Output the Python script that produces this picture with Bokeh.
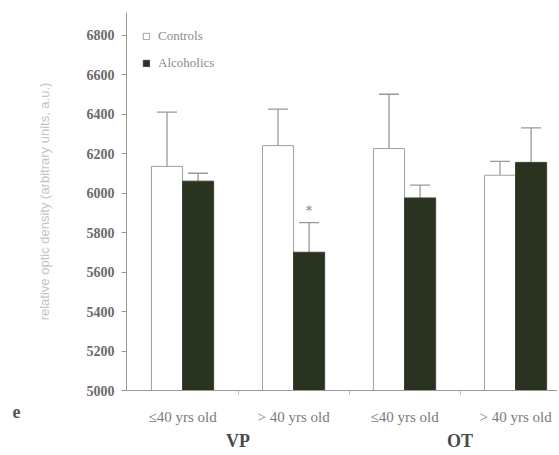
from bokeh.plotting import figure
from bokeh.models import (ColumnDataSource, Whisker, TeeHead, FixedTicker, LinearAxis,
                          Title, Range1d, Legend, LegendItem)
from bokeh.core.properties import value
from bokeh.embed import file_html
from bokeh.resources import INLINE

categories = ["\u226440 yrs old", "> 40 yrs old", "\u226440 yrs old", "> 40 yrs old"]
regions = ["VP", "OT"]
controls = [6135, 6240, 6225, 6090]
controls_err = [275, 185, 275, 70]
alcoholics = [6060, 5700, 5975, 6155]
alcoholics_err = [40, 150, 65, 175]
significant = [False, True, False, False]
y_ticks = [5000, 5200, 5400, 5600, 5800, 6000, 6200, 6400, 6600, 6800]
panel_letter = "e"

SERIF = "Liberation Serif"
bw = 0.28
base = 5000
pos = list(range(len(categories)))

p = figure(width=557, height=453, output_backend="svg", toolbar_location=None,
           x_range=Range1d(-0.505, 3.378), y_range=Range1d(5000, 6914),
           min_border_left=126, min_border_right=0, min_border_top=12, min_border_bottom=10)
p.xgrid.visible = False
p.ygrid.visible = False
p.outline_line_color = None
p.background_fill_color = "white"

src_c = ColumnDataSource(dict(x=[i - bw / 2 for i in pos], top=controls,
                              up=[m + e for m, e in zip(controls, controls_err)]))
src_a = ColumnDataSource(dict(x=[i + bw / 2 for i in pos], top=alcoholics,
                              up=[m + e for m, e in zip(alcoholics, alcoholics_err)]))

rc = p.vbar(x="x", top="top", bottom=base, width=bw, source=src_c,
            fill_color="white", line_color="#a0a0a0", line_width=1)
ra = p.vbar(x="x", top="top", bottom=base, width=bw, source=src_a,
            fill_color="#2a3220", line_color="#3a4230", line_width=1)

for src in (src_c, src_a):
    w = Whisker(base="x", lower="top", upper="up", source=src, dimension="height",
                line_color="#999999", line_width=1.3,
                upper_head=TeeHead(size=20, line_color="#999999", line_width=1.3),
                lower_head=None)
    p.add_layout(w)

star_x = [i + bw / 2 for i, s in zip(pos, significant) if s]
star_y = [m + e + 25 for m, e, s in zip(alcoholics, alcoholics_err, significant) if s]
p.text(x=star_x, y=star_y, text=["*"] * len(star_x), text_align="center",
       text_baseline="bottom", text_font=value("DejaVu Sans"), text_font_size="14px",
       text_color="#8a8a8a")

# y axis
ya = p.yaxis[0]
ya.ticker = FixedTicker(ticks=y_ticks)
ya.major_label_text_font = SERIF
ya.major_label_text_font_style = "bold"
ya.major_label_text_font_size = "14px"
ya.major_label_text_color = "#6a6a6a"
ya.axis_line_color = "#9a9a9a"
ya.major_tick_line_color = "#9a9a9a"
ya.major_tick_in = 0
ya.major_tick_out = 5
ya.minor_tick_line_color = None
ya.major_label_standoff = 7
ya.axis_label = "relative optic density (arbitrary units, a.u.)"
ya.axis_label_text_font = "Liberation Sans"
ya.axis_label_text_font_style = "normal"
ya.axis_label_text_font_size = "13px"
ya.axis_label_text_color = "#c4c4c4"
ya.axis_label_standoff = 32

# x axis (categories)
xa = p.xaxis[0]
xa.ticker = FixedTicker(ticks=pos, minor_ticks=[0.5, 1.5, 2.5])
xa.major_label_overrides = {i: c for i, c in zip(pos, categories)}
xa.major_label_text_font = SERIF
xa.major_label_text_font_size = "15px"
xa.major_label_text_color = "#7a7a7a"
xa.major_tick_line_color = None
xa.minor_tick_line_color = "#bbbbbb"
xa.minor_tick_in = 0
xa.minor_tick_out = 4
xa.axis_line_color = "#9a9a9a"
xa.major_label_standoff = 12

# region axis
ra_axis = LinearAxis(ticker=FixedTicker(ticks=[0.5, 2.5]),
                     major_label_overrides={0.5: regions[0], 2.5: regions[1]})
ra_axis.axis_line_color = None
ra_axis.major_tick_line_color = None
ra_axis.minor_tick_line_color = None
ra_axis.major_label_text_font = SERIF
ra_axis.major_label_text_font_style = "bold"
ra_axis.major_label_text_font_size = "18px"
ra_axis.major_label_text_color = "#4a4a4a"
ra_axis.major_label_standoff = -3
p.add_layout(ra_axis, "below")

# panel letter, as a title row between the two bottom axes
letter = Title(text=panel_letter, align="left", offset=-114, vertical_align="top",
               standoff=-46, text_font=SERIF, text_font_style="bold",
               text_font_size="18px", text_color="#555555")
p.below = [xa, letter, ra_axis]

legend = Legend(items=[LegendItem(label="Controls", renderers=[rc]),
                       LegendItem(label="Alcoholics", renderers=[ra])],
                location="top_left", border_line_color=None, background_fill_alpha=0,
                glyph_width=8, glyph_height=8, label_text_font=SERIF,
                label_text_font_size="13px", label_text_color="#8a8a8a",
                spacing=11, padding=4, margin=16, label_standoff=8)
p.add_layout(legend)

open("out.html", "w").write(file_html(p, INLINE))
